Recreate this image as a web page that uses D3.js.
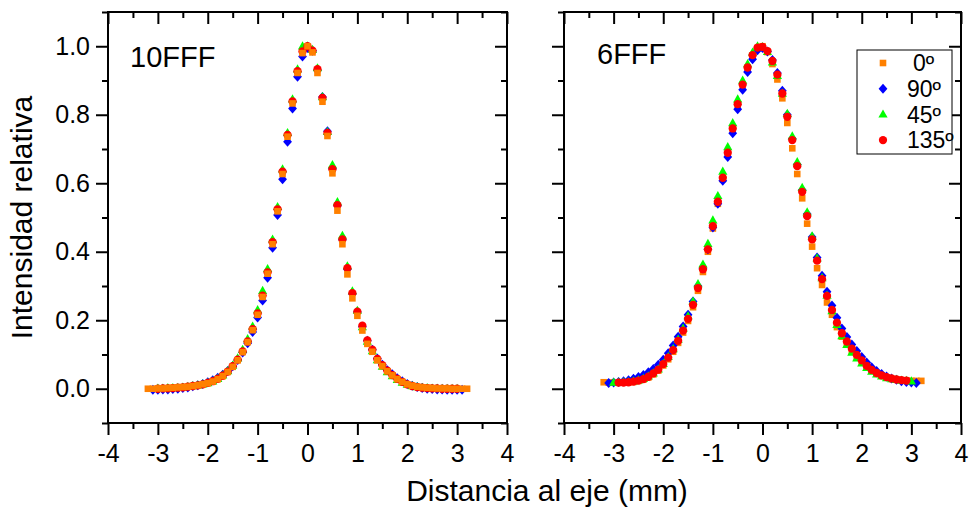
<!DOCTYPE html>
<html>
<head>
<meta charset="utf-8">
<title>Perfiles 10FFF y 6FFF</title>
<script src="https://cdn.jsdelivr.net/npm/d3@7"></script>
<style>
  body { margin: 0; background: #fff; }
  svg { display: block; font-family: "Liberation Sans", Arial, sans-serif; }
</style>
</head>
<body>
<div id="chart"></div>
<script>
// ---- data ----
var seriesNames = ["0º", "90º", "45º", "135º"];
var xStep = 0.1;

// 10FFF: first x of each series, then relative intensity every 0.1 mm
var start10 = [-3.2, -3.1, -3.0, -3.0];
var fff10_0 = [0.000, 0.000, 0.001, 0.001, 0.002, 0.003, 0.004, 0.005, 0.006, 0.008, 0.010, 0.013,
  0.016, 0.021, 0.028, 0.037, 0.049, 0.064, 0.083, 0.107, 0.136, 0.171, 0.216, 0.268, 0.336, 0.422,
  0.518, 0.627, 0.736, 0.833, 0.922, 0.980, 1.000, 0.982, 0.922, 0.838, 0.738, 0.629, 0.520, 0.422,
  0.334, 0.264, 0.213, 0.170, 0.131, 0.108, 0.083, 0.066, 0.051, 0.039, 0.028, 0.020, 0.013, 0.009,
  0.006, 0.004, 0.003, 0.002, 0.001, 0.001, 0.001, 0.000, 0.000, 0.000, 0.000];
var fff10_90 = [-0.003, -0.003, -0.002, -0.002, -0.001, 0.000, 0.002, 0.004, 0.007, 0.010, 0.014,
  0.019, 0.025, 0.032, 0.041, 0.052, 0.066, 0.084, 0.106, 0.133, 0.166, 0.208, 0.258, 0.324, 0.412,
  0.507, 0.612, 0.721, 0.818, 0.911, 0.970, 0.995, 0.987, 0.930, 0.852, 0.752, 0.643, 0.534, 0.435,
  0.349, 0.277, 0.224, 0.181, 0.140, 0.114, 0.088, 0.070, 0.054, 0.042, 0.031, 0.022, 0.014, 0.009,
  0.005, 0.002, 0.000, -0.001, -0.002, -0.002, -0.003, -0.003, -0.003, -0.003];
var fff10_45 = [0.001, 0.001, 0.002, 0.002, 0.003, 0.004, 0.006, 0.008, 0.010, 0.013, 0.017, 0.022,
  0.029, 0.039, 0.052, 0.068, 0.089, 0.114, 0.145, 0.182, 0.230, 0.286, 0.350, 0.436, 0.531, 0.641,
  0.747, 0.845, 0.933, 1.000, 1.000, 0.990, 0.936, 0.852, 0.750, 0.653, 0.545, 0.447, 0.358, 0.285,
  0.228, 0.180, 0.138, 0.110, 0.084, 0.065, 0.049, 0.037, 0.026, 0.018, 0.012, 0.008, 0.005, 0.003,
  0.002, 0.001, 0.001, 0.000, 0.000, 0.000, 0.000];
var fff10_135 = [0.000, 0.001, 0.001, 0.002, 0.003, 0.004, 0.006, 0.008, 0.010, 0.013, 0.017, 0.022,
  0.029, 0.038, 0.050, 0.066, 0.085, 0.109, 0.138, 0.174, 0.220, 0.272, 0.340, 0.428, 0.524, 0.634,
  0.741, 0.839, 0.927, 0.985, 1.000, 0.987, 0.933, 0.849, 0.747, 0.641, 0.536, 0.436, 0.352, 0.279,
  0.225, 0.184, 0.141, 0.114, 0.087, 0.069, 0.053, 0.040, 0.029, 0.020, 0.013, 0.008, 0.005, 0.003,
  0.002, 0.001, 0.001, 0.000, 0.000, 0.000, 0.000];

// 6FFF
var start6 = [-3.2, -3.1, -3.0, -2.9];
var fff6_0 = [0.019, 0.018, 0.018, 0.018, 0.018, 0.019, 0.020, 0.023, 0.027, 0.033, 0.042, 0.053,
  0.068, 0.086, 0.108, 0.134, 0.164, 0.198, 0.238, 0.286, 0.341, 0.400, 0.468, 0.540, 0.612, 0.686,
  0.758, 0.829, 0.887, 0.937, 0.973, 0.995, 1.000, 0.983, 0.948, 0.903, 0.848, 0.776, 0.702, 0.627,
  0.556, 0.482, 0.415, 0.352, 0.303, 0.252, 0.216, 0.180, 0.152, 0.129, 0.110, 0.093, 0.078, 0.064,
  0.053, 0.044, 0.038, 0.033, 0.029, 0.027, 0.025, 0.024, 0.023, 0.023, 0.023];
var fff6_90 = [0.017, 0.018, 0.020, 0.022, 0.025, 0.029, 0.034, 0.040, 0.048, 0.058, 0.070, 0.085,
  0.104, 0.126, 0.152, 0.182, 0.216, 0.255, 0.300, 0.351, 0.407, 0.471, 0.540, 0.607, 0.677, 0.746,
  0.816, 0.873, 0.925, 0.962, 0.988, 0.995, 0.985, 0.960, 0.922, 0.870, 0.800, 0.730, 0.655, 0.580,
  0.510, 0.443, 0.383, 0.330, 0.283, 0.243, 0.207, 0.176, 0.151, 0.129, 0.110, 0.093, 0.077, 0.063,
  0.052, 0.043, 0.036, 0.030, 0.026, 0.022, 0.020, 0.018, 0.017];
var fff6_45 = [0.018, 0.018, 0.019, 0.020, 0.022, 0.025, 0.029, 0.036, 0.045, 0.057, 0.073, 0.093,
  0.116, 0.144, 0.176, 0.212, 0.255, 0.306, 0.363, 0.423, 0.492, 0.563, 0.634, 0.706, 0.776, 0.845,
  0.900, 0.948, 0.982, 1.000, 0.998, 0.984, 0.953, 0.914, 0.862, 0.803, 0.737, 0.662, 0.587, 0.515,
  0.445, 0.381, 0.323, 0.272, 0.227, 0.187, 0.154, 0.128, 0.106, 0.089, 0.074, 0.061, 0.050, 0.042,
  0.036, 0.031, 0.028, 0.026, 0.024, 0.023, 0.022];
var fff6_135 = [0.018, 0.018, 0.019, 0.021, 0.024, 0.028, 0.035, 0.045, 0.056, 0.072, 0.091, 0.113,
  0.140, 0.170, 0.204, 0.245, 0.294, 0.349, 0.407, 0.475, 0.546, 0.616, 0.689, 0.760, 0.831, 0.888,
  0.938, 0.974, 0.996, 0.998, 0.986, 0.957, 0.917, 0.862, 0.794, 0.726, 0.650, 0.575, 0.504, 0.436,
  0.374, 0.320, 0.271, 0.230, 0.193, 0.162, 0.138, 0.117, 0.099, 0.083, 0.067, 0.055, 0.046, 0.039,
  0.034, 0.030, 0.027, 0.025, 0.024];

var xTicks = [-4, -3, -2, -1, 0, 1, 2, 3, 4];
var xMinor = [-3.5, -2.5, -1.5, -0.5, 0.5, 1.5, 2.5, 3.5];
var yTicks = [0.0, 0.2, 0.4, 0.6, 0.8, 1.0];
var yMinor = [-0.1, 0.1, 0.3, 0.5, 0.7, 0.9, 1.1];

// ---- layout / style ----
var width = 969, height = 509;
var plotTop = 12, plotBottom = 423;
var colors = ["#ff8000", "#0000ff", "#00ff00", "#ff0000"];
var shapes = ["square", "diamond", "triangle", "circle"];

var panels = [
  { name: "10FFF", x0: 108, x1: 507, starts: start10, values: [fff10_0, fff10_90, fff10_45, fff10_135],
    order: [1, 2, 3, 0], labels: true, labelX: 130, labelY: 67 },
  { name: "6FFF", x0: 564, x1: 961, starts: start6, values: [fff6_0, fff6_90, fff6_45, fff6_135],
    order: [0, 1, 2, 3], labels: false, labelX: 597, labelY: 64 }
];

function markerPath(shape) {
  if (shape == "square") return "M-3.3,-3.3H3.3V3.3H-3.3Z";
  if (shape == "diamond") return "M0,-5L4.4,0L0,5L-4.4,0Z";
  if (shape == "triangle") return "M0,-5L4.6,3.2L-4.6,3.2Z";
  return d3.symbol(d3.symbolCircle, 54)();
}

var svg = d3.select("#chart")
  .append("svg")
  .attr("width", width)
  .attr("height", height)
  .attr("viewBox", [0, 0, width, height]);

var y = d3.scaleLinear().domain([-0.1, 1.1]).range([plotBottom, plotTop]);

function styleAxis(g) {
  g.select(".domain").remove();
  g.selectAll("line").attr("stroke", "#000").attr("stroke-width", 2);
  g.selectAll("text").attr("fill", "#000").style("font-size", "25px")
    .style("font-family", "'Liberation Sans', Arial, sans-serif");
}

panels.forEach(function(p) {
  var x = d3.scaleLinear().domain([-4, 4]).range([p.x0, p.x1]);
  var g = svg.append("g");

  // points
  p.order.forEach(function(k) {
    var pts = p.values[k].map((v, i) => ({ x: p.starts[k] + i * xStep, v: v }));
    g.append("g")
      .selectAll("path")
      .data(pts)
      .join("path")
        .attr("transform", d => `translate(${x(d.x)},${y(d.v)})`)
        .attr("d", markerPath(shapes[k]))
        .attr("fill", colors[k]);
  });

  // axes: bottom + left outward, top + right inward
  g.append("g").attr("transform", `translate(0,${plotBottom})`)
    .call(d3.axisBottom(x).tickValues(xTicks).tickSize(12).tickPadding(9).tickFormat(d => String(d)))
    .call(styleAxis);
  g.append("g").attr("transform", `translate(0,${plotBottom})`)
    .call(d3.axisBottom(x).tickValues(xMinor).tickSize(6).tickFormat(""))
    .call(styleAxis);
  g.append("g").attr("transform", `translate(0,${plotTop})`)
    .call(d3.axisTop(x).tickValues(xTicks).tickSize(-12).tickFormat(""))
    .call(styleAxis);
  g.append("g").attr("transform", `translate(0,${plotTop})`)
    .call(d3.axisTop(x).tickValues(xMinor).tickSize(-6).tickFormat(""))
    .call(styleAxis);

  g.append("g").attr("transform", `translate(${p.x0},0)`)
    .call(d3.axisLeft(y).tickValues(yTicks).tickSize(12).tickPadding(6)
      .tickFormat(p.labels ? d3.format(".1f") : ""))
    .call(styleAxis);
  g.append("g").attr("transform", `translate(${p.x0},0)`)
    .call(d3.axisLeft(y).tickValues(yMinor).tickSize(6).tickFormat(""))
    .call(styleAxis);
  g.append("g").attr("transform", `translate(${p.x1},0)`)
    .call(d3.axisRight(y).tickValues(yTicks).tickSize(-12).tickFormat(""))
    .call(styleAxis);
  g.append("g").attr("transform", `translate(${p.x1},0)`)
    .call(d3.axisRight(y).tickValues(yMinor).tickSize(-6).tickFormat(""))
    .call(styleAxis);

  g.append("rect")
    .attr("x", p.x0).attr("y", plotTop)
    .attr("width", p.x1 - p.x0).attr("height", plotBottom - plotTop)
    .attr("fill", "none").attr("stroke", "#000").attr("stroke-width", 2);

  g.append("text")
    .attr("x", p.labelX).attr("y", p.labelY)
    .style("font-size", "29px")
    .text(p.name);
});

// legend
var legend = svg.append("g").attr("transform", "translate(857,50)");
legend.append("rect")
  .attr("width", 95).attr("height", 104)
  .attr("fill", "#fff").attr("stroke", "#000").attr("stroke-width", 1);
var rows = legend.selectAll("g.row")
  .data(seriesNames)
  .join("g")
    .attr("class", "row")
    .attr("transform", (d, i) => `translate(0,${13 + i * 25.7})`);
rows.append("path")
  .attr("transform", "translate(26,0)")
  .attr("d", (d, i) => markerPath(shapes[i]))
  .attr("fill", (d, i) => colors[i]);
rows.append("text")
  .attr("x", (d, i) => i == 0 ? 56 : 50)
  .attr("dy", "0.36em")
  .style("font-size", "23px")
  .text(d => d);

// axis titles
svg.append("text")
  .attr("x", 547).attr("y", 501)
  .attr("text-anchor", "middle")
  .style("font-size", "30px")
  .text("Distancia al eje (mm)");
svg.append("text")
  .attr("transform", `translate(32,${(plotTop + plotBottom) / 2}) rotate(-90)`)
  .attr("text-anchor", "middle")
  .style("font-size", "30px")
  .text("Intensidad relativa");
</script>
</body>
</html>
